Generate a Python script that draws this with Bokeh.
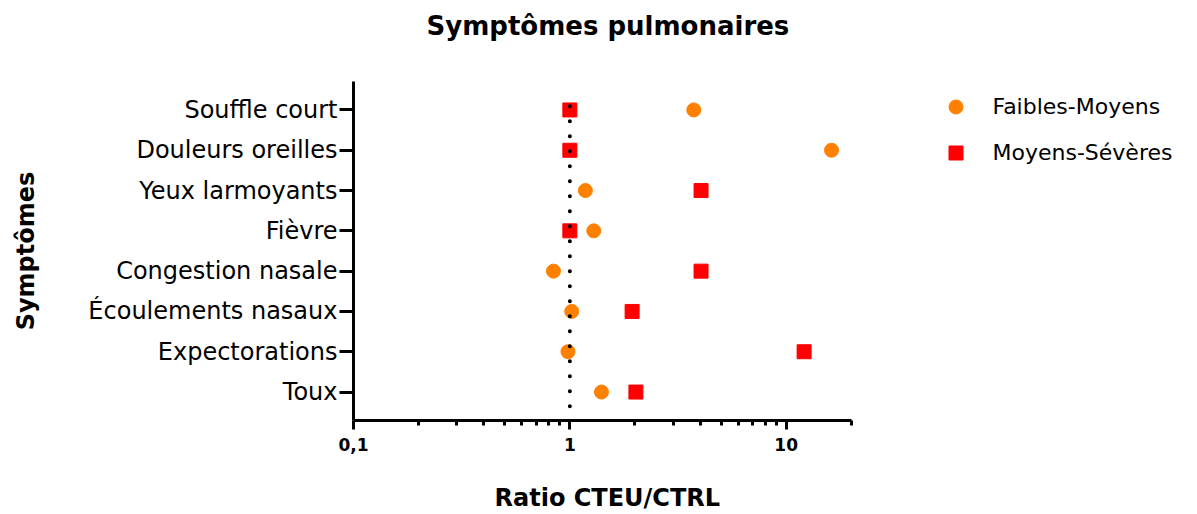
import math
from bokeh.plotting import figure
from bokeh.models import (FixedTicker, CustomJSTickFormatter, Legend, LegendItem,
                          FactorRange, Range1d, Title, LogAxis)
from bokeh.embed import file_html
from bokeh.resources import INLINE

# ---- data ----
symptoms = ["Toux", "Expectorations", "Écoulements nasaux", "Congestion nasale",
            "Fièvre", "Yeux larmoyants", "Douleurs oreilles", "Souffle court"]
faibles_moyens = [1.40, 0.98, 1.02, 0.84, 1.29, 1.18, 16.2, 3.74]
moyens_severes = [2.02, 12.1, 1.94, 4.04, 1.00, 4.04, 1.00, 1.00]
series_names = ["Faibles-Moyens", "Moyens-Sévères"]
x_major_ticks = [0.1, 1, 10]
x_minor_ticks = [0.2, 0.3, 0.4, 0.5, 0.6, 0.7, 0.8, 0.9,
                 2, 3, 4, 5, 6, 7, 8, 9, 20]
x_axis_bounds = (0.1, 20)
reference_ratio = 1.0
title_text = "Symptômes pulmonaires"
x_label_text = "Ratio CTEU/CTRL"
y_label_text = "Symptômes"

FONT = "DejaVu Sans"
ORANGE = "#FF8000"
RED = "#FF0000"

W, H = 1181, 512
LEFT, TOP, FRAME_H = 353, 81, 339
DECADE_PX = 216.35
frame_w = W - LEFT
x_end = 10 ** (math.log10(x_axis_bounds[0]) + frame_w / DECADE_PX)

p = figure(width=W, height=H, x_axis_type="log",
           x_range=Range1d(x_axis_bounds[0], x_end),
           y_range=FactorRange(factors=symptoms, range_padding=0.0515),
           output_backend="svg", toolbar_location=None,
           min_border_left=LEFT, min_border_right=0,
           min_border_top=TOP, min_border_bottom=H - TOP - FRAME_H)

p.outline_line_color = None
p.xgrid.visible = False
p.ygrid.visible = False

# keep explicit references to the real axes before adding anything else
xa = p.below[0]
ya = p.left[0]

# an (invisible) tick far right, in an empty part of the picture
spacer_tick = x_end * 0.72


def spacer_axis(size):
    """Invisible axis used only to reserve space in a side panel."""
    return LogAxis(ticker=FixedTicker(ticks=[spacer_tick], minor_ticks=[]),
                   formatter=CustomJSTickFormatter(code="return '';"),
                   major_tick_out=size, major_tick_in=0,
                   minor_tick_out=0, minor_tick_in=0, major_label_standoff=0,
                   major_label_text_font_size="0px",
                   axis_line_color=None,
                   major_tick_line_color="white", major_tick_line_alpha=0.01,
                   minor_tick_line_color=None)


# title (pushed up by an invisible spacer axis between it and the frame)
p.add_layout(spacer_axis(40), "above")
p.title.text = title_text
p.title.align = "left"
p.title.offset = 73
p.title.text_font = FONT
p.title.text_font_size = "26px"
p.title.text_font_style = "bold"
p.title.text_color = "black"
p.title.standoff = 2

r1 = p.scatter(x=faibles_moyens, y=symptoms, marker="circle", size=14,
               fill_color=ORANGE, line_color=ORANGE)
r2 = p.scatter(x=moyens_severes, y=symptoms, marker="square", size=14,
               fill_color=RED, line_color=RED)

n = len(symptoms)
p.segment(x0=[reference_ratio], x1=[reference_ratio], y0=[0.15], y1=[n - 0.3],
          line_color="black", line_width=4, line_dash="0 15", line_cap="round")

# x axis
xa.bounds = x_axis_bounds
xa.ticker = FixedTicker(ticks=x_major_ticks, minor_ticks=x_minor_ticks)
xa.formatter = CustomJSTickFormatter(code="return tick.toString().replace('.', ',');")
xa.axis_line_width = 3
xa.axis_line_color = "black"
xa.major_tick_line_width = 3
xa.minor_tick_line_width = 3
xa.major_tick_line_color = "black"
xa.minor_tick_line_color = "black"
xa.major_tick_in = 0
xa.minor_tick_in = 0
xa.major_tick_out = 9
xa.minor_tick_out = 5
xa.major_label_text_font = FONT
xa.major_label_text_font_size = "17px"
xa.major_label_text_font_style = "bold"
xa.major_label_text_color = "black"
xa.major_label_standoff = 8

p.add_layout(spacer_axis(27), "below")
x_title = Title(text=x_label_text, align="left", offset=141, standoff=2,
                text_font=FONT, text_font_size="24px",
                text_font_style="bold", text_color="black")
p.add_layout(x_title, "below")

# y axis
ya.axis_line_width = 3
ya.axis_line_color = "black"
ya.major_tick_line_width = 3
ya.major_tick_line_color = "black"
ya.major_tick_in = 0
ya.major_tick_out = 14
ya.major_label_text_font = FONT
ya.major_label_text_font_size = "24px"
ya.major_label_text_color = "black"
ya.major_label_standoff = 2
ya.axis_label = y_label_text
ya.axis_label_text_font = FONT
ya.axis_label_text_font_size = "24px"
ya.axis_label_text_font_style = "bold"
ya.axis_label_text_color = "black"
ya.axis_label_standoff = 45

legend = Legend(items=[LegendItem(label=series_names[0], renderers=[r1]),
                       LegendItem(label=series_names[1], renderers=[r2])],
                location=(584.5, 250.5), padding=0, spacing=11,
                glyph_width=35, glyph_height=35, label_standoff=20,
                label_text_font=FONT, label_text_font_size="22px",
                label_text_color="black", border_line_color=None,
                background_fill_alpha=0)
p.add_layout(legend, "center")

open("out.html", "w").write(file_html(p, INLINE))
